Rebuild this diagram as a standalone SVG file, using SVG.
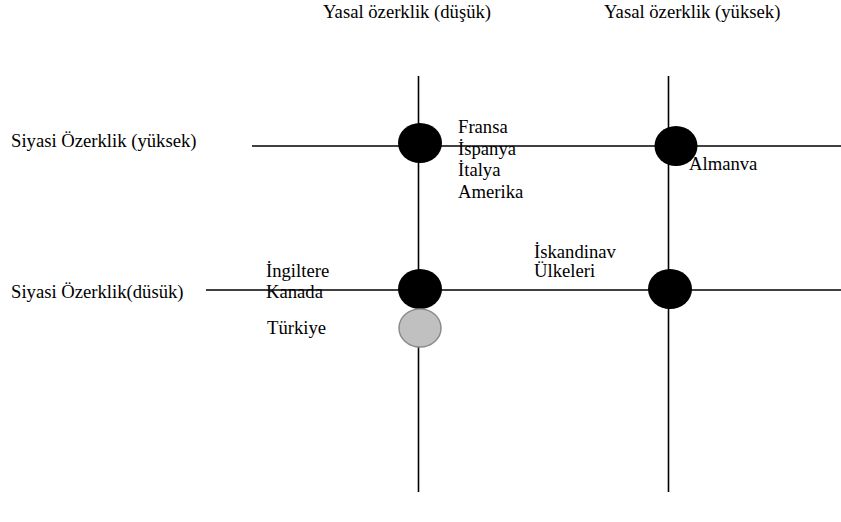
<svg xmlns="http://www.w3.org/2000/svg" width="841" height="522" viewBox="0 0 841 522">
<style>
text{font-family:'Liberation Serif','Times New Roman','DejaVu Serif',serif;font-size:18.67px;fill:#000}
.ln{stroke:#000;stroke-width:1.6;fill:none}
.dot{fill:#000}
.gray{fill:#c0c0c0;stroke:#8c8c8c;stroke-width:1.5}
</style>
<rect width="841" height="522" fill="#fff"/>
<g id="axis-labels">
<text x="323" y="18">Yasal özerklik (düşük)</text>
<text x="604" y="18">Yasal özerklik (yüksek)</text>
<text x="11" y="147">Siyasi Özerklik (yüksek)</text>
<text x="11" y="298">Siyasi Özerklik(düsük)</text>
</g>
<g id="connectors">
<line class="ln" x1="418.5" y1="76" x2="418.5" y2="492"/>
<line class="ln" x1="668.5" y1="76" x2="668.5" y2="492"/>
<line class="ln" x1="252" y1="146" x2="841" y2="146"/>
<line class="ln" x1="206" y1="290" x2="841" y2="290"/>
</g>
<g id="node-top-left">
<ellipse class="dot" cx="420" cy="143" rx="22" ry="20"/>
<text x="458" y="133">Fransa</text>
<text x="458" y="155">İspanya</text>
<text x="458" y="176">İtalya</text>
<text x="458" y="198">Amerika</text>
</g>
<g id="node-top-right">
<ellipse class="dot" cx="676" cy="146" rx="21.5" ry="20"/>
<text x="689" y="170">Almanva</text>
</g>
<g id="node-bottom-left">
<ellipse class="dot" cx="420" cy="289" rx="22" ry="20"/>
<text x="266" y="277">İngiltere</text>
<text x="266" y="298">Kanada</text>
</g>
<g id="node-turkiye">
<ellipse class="gray" cx="420" cy="328" rx="21" ry="19"/>
<text x="267" y="334">Türkiye</text>
</g>
<g id="node-bottom-right">
<ellipse class="dot" cx="670" cy="289" rx="22" ry="20"/>
<text x="534" y="258">İskandinav</text>
<text x="534" y="277">Ülkeleri</text>
</g>
</svg>
